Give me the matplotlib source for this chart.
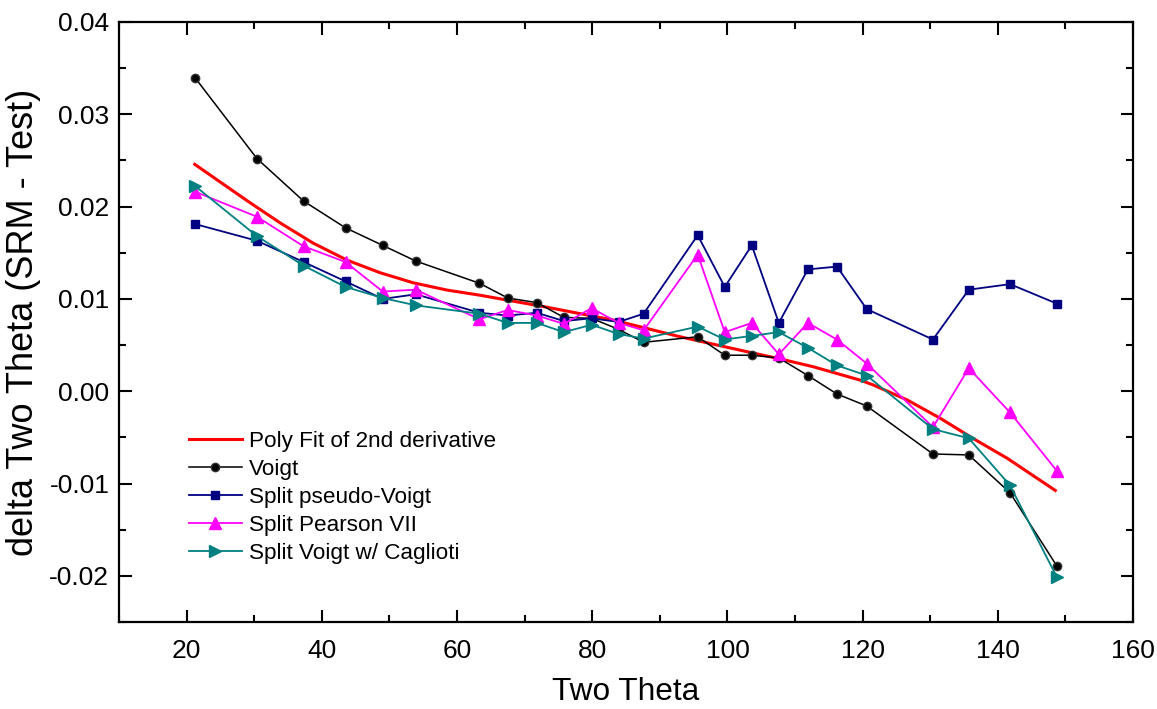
import numpy as np
import matplotlib
matplotlib.use("Agg")
import matplotlib.pyplot as plt
from matplotlib.ticker import MultipleLocator

plt.rcParams['font.family'] = ['Liberation Sans', 'DejaVu Sans']

# Reflection positions (2-theta, degrees)
two_theta = [21.3, 30.4, 37.3, 43.5, 49.0, 53.9, 63.3, 67.5, 71.8, 75.8,
             79.9, 83.9, 87.6, 95.6, 99.6, 103.6, 107.6, 111.9, 116.2,
             120.6, 130.4, 135.7, 141.8, 148.7]

voigt = [0.0339, 0.0252, 0.0206, 0.0177, 0.0158, 0.0141, 0.0117, 0.0101,
         0.0096, 0.0080, 0.0079, 0.0067, 0.0053, 0.0059, 0.0039, 0.0039,
         0.0036, 0.0017, -0.0003, -0.0016, -0.0068, -0.0069, -0.0110,
         -0.0189]

split_pseudo_voigt = [0.0181, 0.0163, 0.0140, 0.0119, 0.0100, 0.0105,
                      0.0085, 0.0082, 0.0085, 0.0076, 0.0079, 0.0075,
                      0.0084, 0.0169, 0.0113, 0.0158, 0.0074, 0.0132,
                      0.0135, 0.0089, 0.0056, 0.0110, 0.0116, 0.0095]

split_pearson_vii = [0.0216, 0.0189, 0.0157, 0.0140, 0.0108, 0.0110,
                     0.0078, 0.0088, 0.0082, 0.0073, 0.0090, 0.0074,
                     0.0066, 0.0148, 0.0064, 0.0074, 0.0040, 0.0074,
                     0.0056, 0.0030, -0.0039, 0.0025, -0.0023, -0.0086]

split_voigt_caglioti = [0.0222, 0.0168, 0.0136, 0.0113, 0.0101, 0.0093,
                        0.0084, 0.0074, 0.0074, 0.0064, 0.0072, 0.0062,
                        0.0057, 0.0070, 0.0056, 0.0060, 0.0064, 0.0047,
                        0.0028, 0.0017, -0.0041, -0.0051, -0.0102,
                        -0.0201]

# Polynomial fit curve, sampled along its length
fit_x = [21.2, 28.8, 33.8, 38.7, 43.7, 48.6, 53.5, 58.5, 63.4, 73.3, 83.1,
         93.0, 102.9, 107.8, 112.7, 119.6, 121.5, 126.6, 131.5, 136.3,
         141.4, 148.5]
fit_y = [0.02458, 0.02071, 0.01825, 0.01605, 0.01421, 0.01284, 0.01175,
         0.01096, 0.01040, 0.00910, 0.00771, 0.00590, 0.00428, 0.00350,
         0.00265, 0.00121, 0.00070, -0.00095, -0.00294, -0.00510,
         -0.00727, -0.01075]

fig = plt.figure(figsize=(11.57, 7.09), dpi=100)
ax = fig.add_axes([0.1029, 0.1227, 0.8764, 0.8463])

ax.plot(fit_x, fit_y, color='#FF0000', lw=2.2, label='Poly Fit of 2nd derivative', zorder=2)
ax.plot(two_theta, voigt, color='black', lw=1.1, marker='o', ms=6,
        mfc='black', mec='#333333', label='Voigt', zorder=3)
ax.plot(two_theta, split_pseudo_voigt, color='#000080', lw=1.3, marker='s',
        ms=6, mfc='#000080', mec='#000080', label='Split pseudo-Voigt', zorder=3)
ax.plot(two_theta, split_pearson_vii, color='#FF00FF', lw=1.3, marker='^',
        ms=8, mfc='#FF00FF', mec='#FF00FF', label='Split Pearson VII', zorder=3)
ax.plot(two_theta, split_voigt_caglioti, color='#008080', lw=1.3, marker='>',
        ms=8, mfc='#008080', mec='#008080', label='Split Voigt w/ Caglioti', zorder=3)

ax.set_xlim(10, 160)
ax.set_ylim(-0.025, 0.04)
ax.xaxis.set_major_locator(MultipleLocator(20))
ax.xaxis.set_minor_locator(MultipleLocator(10))
ax.yaxis.set_major_locator(MultipleLocator(0.01))
ax.yaxis.set_minor_locator(MultipleLocator(0.005))
ax.yaxis.set_major_formatter(matplotlib.ticker.FuncFormatter(
    lambda v, p: '%.2f' % v if abs(v) > 1e-9 else '0.00'))

for s in ax.spines.values():
    s.set_linewidth(1.6)
ax.tick_params(which='both', direction='in', top=True, right=True, width=1.5)
ax.tick_params(which='major', length=9, labelsize=19)
ax.tick_params(which='minor', length=5)
ax.tick_params(axis='x', which='major', pad=12)
ax.tick_params(axis='y', which='major', pad=7)

ax.set_xlabel('Two Theta', fontsize=22.8, labelpad=10)
ax.set_ylabel('delta Two Theta (SRM - Test)', fontsize=26, labelpad=6)

ax.legend(loc='upper left', bbox_to_anchor=(0.069, 0.318), frameon=False,
          fontsize=16.2, handlelength=2.35, handletextpad=0.3,
          labelspacing=0.31, borderpad=0, borderaxespad=0)

fig.savefig('out.png', dpi=100)
